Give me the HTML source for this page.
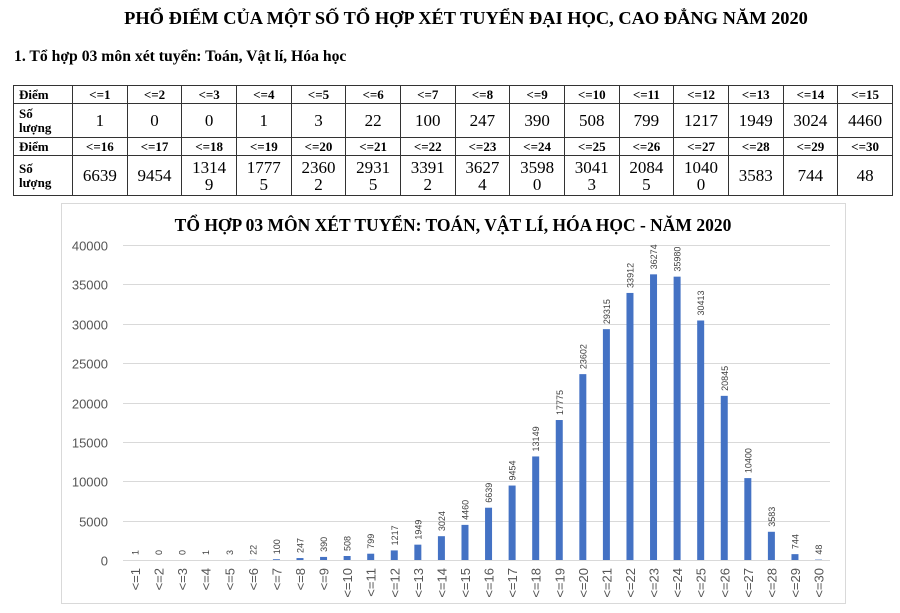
<!DOCTYPE html>
<html><head><meta charset="utf-8"><style>
body{margin:0;width:900px;height:613px;background:#fff;overflow:hidden;position:relative;font-family:"Liberation Serif",serif;}
.t{position:absolute;top:8px;left:466px;transform:translateX(-50%);white-space:nowrap;font-weight:bold;font-size:18.4px;}
.s{position:absolute;top:48px;left:14px;font-weight:bold;font-size:15.7px;}
table{position:absolute;left:13px;top:85px;width:880px;border-collapse:collapse;table-layout:fixed;}
td{border:1px solid #333;text-align:center;padding:0;font-size:17px;line-height:17px;}
td.h{font-weight:bold;font-size:13px;height:16px;}
td.l{text-align:left;font-weight:bold;font-size:13px;line-height:14px;padding-left:5px;}
tr.a td{height:33px}tr.b td{height:39px}
svg{position:absolute;left:0;top:0}
</style></head><body>
<div class="t">PHỔ ĐIỂM CỦA MỘT SỐ TỔ HỢP XÉT TUYỂN ĐẠI HỌC, CAO ĐẲNG NĂM 2020</div>
<div class="s">1. Tổ hợp 03 môn xét tuyển: Toán, Vật lí, Hóa học</div>
<table>
<colgroup><col style="width:59px"><col span="15"></colgroup>
<tr><td class="l">Điểm</td><td class="h">&lt;=1</td><td class="h">&lt;=2</td><td class="h">&lt;=3</td><td class="h">&lt;=4</td><td class="h">&lt;=5</td><td class="h">&lt;=6</td><td class="h">&lt;=7</td><td class="h">&lt;=8</td><td class="h">&lt;=9</td><td class="h">&lt;=10</td><td class="h">&lt;=11</td><td class="h">&lt;=12</td><td class="h">&lt;=13</td><td class="h">&lt;=14</td><td class="h">&lt;=15</td></tr>
<tr class="a"><td class="l">Số<br>lượng</td><td>1</td><td>0</td><td>0</td><td>1</td><td>3</td><td>22</td><td>100</td><td>247</td><td>390</td><td>508</td><td>799</td><td>1217</td><td>1949</td><td>3024</td><td>4460</td></tr>
<tr><td class="l">Điểm</td><td class="h">&lt;=16</td><td class="h">&lt;=17</td><td class="h">&lt;=18</td><td class="h">&lt;=19</td><td class="h">&lt;=20</td><td class="h">&lt;=21</td><td class="h">&lt;=22</td><td class="h">&lt;=23</td><td class="h">&lt;=24</td><td class="h">&lt;=25</td><td class="h">&lt;=26</td><td class="h">&lt;=27</td><td class="h">&lt;=28</td><td class="h">&lt;=29</td><td class="h">&lt;=30</td></tr>
<tr class="b"><td class="l">Số<br>lượng</td><td>6639</td><td>9454</td><td>1314<br>9</td><td>1777<br>5</td><td>2360<br>2</td><td>2931<br>5</td><td>3391<br>2</td><td>3627<br>4</td><td>3598<br>0</td><td>3041<br>3</td><td>2084<br>5</td><td>1040<br>0</td><td>3583</td><td>744</td><td>48</td></tr>
</table>
<svg id="c" width="900" height="613" xmlns="http://www.w3.org/2000/svg"></svg>
<script>
var v=[1,0,0,1,3,22,100,247,390,508,799,1217,1949,3024,4460,6639,9454,13149,17775,23602,29315,33912,36274,35980,30413,20845,10400,3583,744,48];
var s='<rect x="61.5" y="203.5" width="784" height="400" fill="none" stroke="#d9d9d9"/>';
s+='<text x="453" y="231" text-anchor="middle" font-family="Liberation Serif,serif" font-weight="bold" font-size="17.5">TỔ HỢP 03 MÔN XÉT TUYỂN: TOÁN, VẬT LÍ, HÓA HỌC - NĂM 2020</text>';
var y0=560,k=315/40000;
for(var g=0;g<=40000;g+=5000){var y=Math.round(y0-g*k)+.5;s+='<line x1="123" x2="830" y1="'+y+'" y2="'+y+'" stroke="#d9d9d9"/>';s+='<text x="108" y="'+(y+5)+'" text-anchor="end" font-family="Liberation Sans,sans-serif" font-size="13" fill="#555">'+g+'</text>';}
for(var i=0;i<30;i++){var cx=135+i*23.57,h=v[i]*k;
s+='<rect x="'+(cx-3.5)+'" y="'+(y0-h)+'" width="7" height="'+h+'" fill="#4472c4"/>';
var ty=y0-h-5;s+='<text transform="translate('+(cx+3.5)+','+ty+') rotate(-90)" font-family="Liberation Sans,sans-serif" font-size="9" fill="#404040">'+v[i]+'</text>';
s+='<text transform="translate('+(cx+5)+',568) rotate(-90)" text-anchor="end" font-family="Liberation Sans,sans-serif" font-size="13" fill="#555">&lt;='+(i+1)+'</text>';}
document.getElementById('c').innerHTML=s;
</script>
</body></html>
